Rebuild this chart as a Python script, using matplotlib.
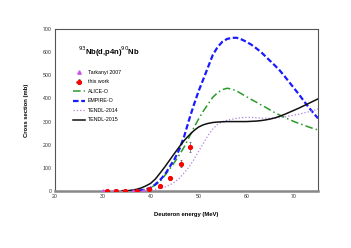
import matplotlib
matplotlib.use("Agg")
import matplotlib.pyplot as plt

plt.rcParams['font.family'] = ['Liberation Sans', 'DejaVu Sans']

# ---- data ----
E_curve = [34, 35, 36, 37, 38, 39, 40, 41, 42, 43, 44, 45, 46, 47, 48, 49, 50,
           51, 52, 53, 54, 55, 56, 57, 58, 59, 60, 61, 62, 63, 64, 65, 66, 67,
           68, 69, 70, 71, 72, 73, 74, 75]
empire = [0, 0, 0.5, 1, 3, 7, 14, 29, 48, 72, 105, 138, 180, 235, 305, 370, 430,
          482, 535, 588, 622, 645, 657, 662, 662, 655, 645, 633, 618, 602, 582,
          562, 542, 521, 496, 470, 444, 418, 390, 363, 338, 314]
alice = [0, 0, 0, 1, 3, 8, 15, 26, 42, 68, 95, 124, 156, 190, 230, 272, 310,
         345, 375, 405, 425, 438, 444, 440, 432, 420, 408, 396, 385, 373, 362,
         350, 338, 328, 318, 309, 300, 292, 285, 277, 270, 264]
tendl2015 = [0, 1, 3, 7, 13, 22, 33, 52, 78, 105, 134, 163, 191, 218, 240, 260,
             276, 286, 292, 296, 298, 299, 300, 300, 300, 300, 300, 301, 302,
             304, 307, 311, 316, 323, 331, 340, 349, 358, 368, 378, 388, 398]
tendl2014 = [0, 0, 0, 0, 0, 2, 4, 7, 11, 17, 26, 38, 55, 78, 103, 135, 170, 205,
             240, 268, 288, 300, 306, 310, 314, 317, 318, 318, 317, 315, 314,
             314, 315, 317, 320, 324, 328, 332, 337, 342, 348, 354]

E_work = [30.9, 32.8, 34.6, 37.1, 39.6, 41.9, 44.1, 46.3, 48.3]
xs_work = [0, 0, 0, 2, 7, 20, 56, 118, 191]
err_work = [0, 0, 0, 1, 2, 4, 8, 14, 22]
E_tark = [30.1, 32.4, 36.3, 38.3]
xs_tark = [0, 0, 0, 0]

xticks = [20, 30, 40, 50, 60, 70]
yticks = [0, 100, 200, 300, 400, 500, 600, 700]

fig = plt.figure(figsize=(3.51, 2.48), dpi=100)
ax = fig.add_axes([55/351, 1-191/248, 263/351, 162/248])

h1, = ax.plot(E_tark, xs_tark, linestyle='none', marker='^', ms=2.5,
              color='#cc55ee', label='Tarkanyi 2007', zorder=5)
h2 = ax.errorbar(E_work, xs_work, yerr=err_work, xerr=0.4, fmt='o', ms=2.7,
                 color='#ff0000', ecolor='#555555', elinewidth=0.5, capsize=0.8,
                 capthick=0.5, label='this work', zorder=6)
h3, = ax.plot(E_curve, alice, color='#2a9a2a', lw=1.1, dashes=(5, 2, 1, 2),
              label='ALICE-O', zorder=3)
h4, = ax.plot(E_curve, empire, color='#1a1aff', lw=1.6, dashes=(2.5, 1.2),
              label='EMPIRE-O', zorder=3)
h5, = ax.plot(E_curve, tendl2014, color='#b080e0', lw=0.9, linestyle=':',
              label='TENDL-2014', zorder=3)
h6, = ax.plot(E_curve, tendl2015, color='#111111', lw=1.1, linestyle='-',
              label='TENDL-2015', zorder=4)

ax.set_xlim(20, 75)
ax.set_ylim(0, 700)
ax.set_xticks(xticks)
ax.set_yticks(yticks)
ax.tick_params(axis='both', length=0, labelsize=3.8, colors='#333333', pad=2.5)

for s in ['top', 'right', 'left']:
    ax.spines[s].set_color('#555555')
    ax.spines[s].set_linewidth(0.8)
ax.spines['bottom'].set_color('#888888')
ax.spines['bottom'].set_linewidth(1.8)

ax.set_xlabel('Deuteron energy (MeV)', fontsize=4.2, fontweight='bold', labelpad=9)
ax.set_ylabel('Cross section (mb)', fontsize=4.2, fontweight='bold', labelpad=10)

ax.text(0.203, 0.86, r'$^{93}$Nb(d,p4n)$^{90}$Nb', transform=ax.transAxes,
        ha='center', va='center', fontsize=5.5, fontweight='bold')

leg = ax.legend(handles=[h1, h2, h3, h4, h5, h6], loc='upper left',
                bbox_to_anchor=(0.06, 0.76), frameon=False,
                fontsize=3.8, handlelength=2.2, labelspacing=0.85,
                handletextpad=0.6, borderaxespad=0)

fig.savefig('out.png', dpi=100)
